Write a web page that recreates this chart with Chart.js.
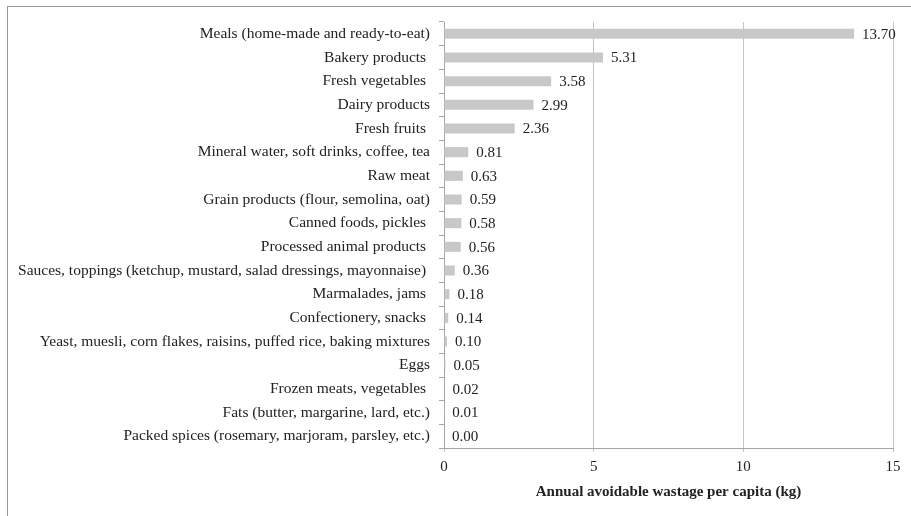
<!DOCTYPE html>
<html>
<head>
<meta charset="utf-8">
<script src="https://cdn.jsdelivr.net/npm/chart.js@4/dist/chart.umd.min.js"></script>
<style>
    html, body { margin: 0; padding: 0; background: #fff; }
    #wrap { position: relative; width: 911px; height: 516px; }
    #frame { position: absolute; left: 7px; top: 6px; width: 920px; height: 530px; border: 1px solid #999; box-sizing: border-box; pointer-events: none; }
</style>
</head>
<body>
<div id="wrap">
    <canvas id="myChart" width="911" height="516"></canvas>
    <div id="frame"></div>
</div>
<script>
// categories (top to bottom) and annual avoidable wastage per capita (kg)
const categories = [
    'Meals (home-made and ready-to-eat)',
    'Bakery products ',
    'Fresh vegetables ',
    'Dairy products',
    'Fresh fruits ',
    'Mineral water, soft drinks, coffee, tea',
    'Raw meat',
    'Grain products (flour, semolina, oat)',
    'Canned foods, pickles ',
    'Processed animal products ',
    'Sauces, toppings (ketchup, mustard, salad dressings, mayonnaise) ',
    'Marmalades, jams ',
    'Confectionery, snacks ',
    'Yeast, muesli, corn flakes, raisins, puffed rice, baking mixtures',
    'Eggs',
    'Frozen meats, vegetables ',
    'Fats (butter, margarine, lard, etc.)',
    'Packed spices (rosemary, marjoram, parsley, etc.)'
];
const wastage = [13.70, 5.31, 3.58, 2.99, 2.36, 0.81, 0.63, 0.59, 0.58, 0.56, 0.36, 0.18, 0.14, 0.10, 0.05, 0.02, 0.01, 0.00];
const xTicks = [0, 5, 10, 15];

const FONT = "'Liberation Serif', 'Times New Roman', serif";

// draw the value next to each bar
const valueLabels = {
    id: 'valueLabels',
    afterDatasetsDraw(chart) {
        const ctx = chart.ctx;
        const meta = chart.getDatasetMeta(0);
        ctx.save();
        ctx.font = '15px ' + FONT;
        ctx.fillStyle = '#222';
        ctx.textAlign = 'left';
        ctx.textBaseline = 'middle';
        meta.data.forEach((bar, i) => {
            ctx.fillText(wastage[i].toFixed(2), bar.x + 8, bar.y + 1);
        });
        ctx.restore();
    }
};

new Chart('myChart', {
    type: 'bar',
    data: {
        labels: categories,
        datasets: [{
            data: wastage,
            backgroundColor: '#c8c8c8',
            borderWidth: 0,
            barPercentage: 0.85,
            categoryPercentage: 0.5
        }]
    },
    options: {
        indexAxis: 'y',
        responsive: false,
        animation: false,
        layout: { padding: { top: 22, right: 18, left: 0, bottom: 0 } },
        plugins: {
            legend: { display: false },
            tooltip: { enabled: false }
        },
        scales: {
            x: {
                min: 0,
                max: 15,
                afterBuildTicks: (scale) => { scale.ticks = xTicks.map(v => ({ value: v })); },
                afterFit: (scale) => { scale.height = 68; },
                grid: { color: '#c4c4c4', tickLength: 4, drawTicks: true },
                border: { color: '#a6a6a6' },
                ticks: { color: '#222', font: { family: FONT, size: 15 }, padding: 6 },
                title: {
                    display: true,
                    text: 'Annual avoidable wastage per capita (kg)',
                    color: '#222',
                    font: { family: FONT, size: 15, weight: 'bold' },
                    padding: { top: 4, bottom: 15 }
                }
            },
            y: {
                afterFit: (scale) => { scale.width = 444; },
                grid: { drawOnChartArea: false, offset: true, tickLength: 5, color: '#a6a6a6' },
                border: { color: '#a6a6a6' },
                ticks: { color: '#222', font: { family: FONT, size: 15.5 }, padding: 9, autoSkip: false }
            }
        }
    },
    plugins: [valueLabels]
});
</script>
</body>
</html>
